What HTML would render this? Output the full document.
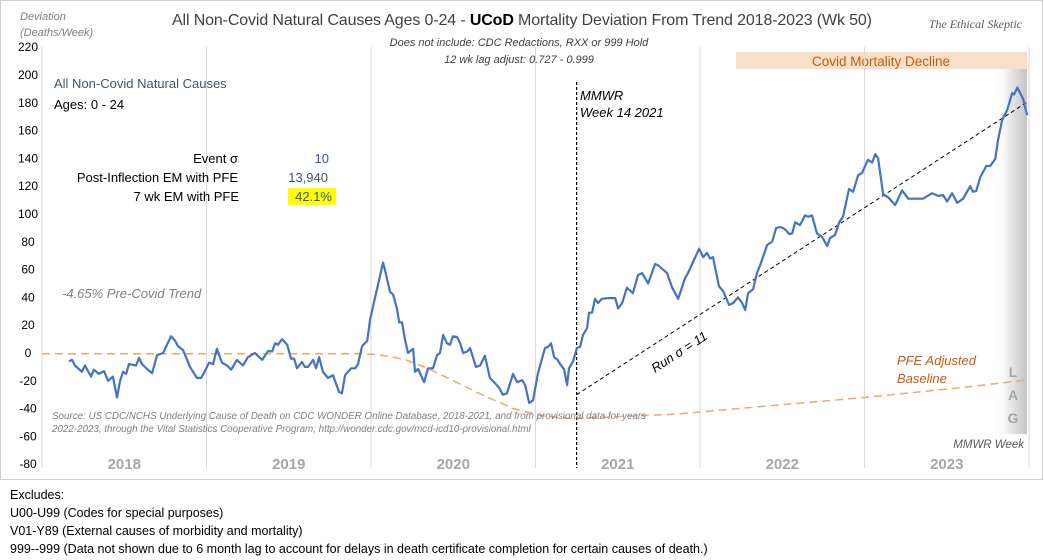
<!DOCTYPE html>
<html><head><meta charset="utf-8">
<style>
body{margin:0;background:#fff;}
svg{display:block;font-family:"Liberation Sans",sans-serif;}
</style></head>
<body>
<svg id="chart" width="1044" height="560" viewBox="0 0 1044 560" xmlns="http://www.w3.org/2000/svg">
<defs>
<linearGradient id="lagGrad" x1="0" x2="1" y1="0" y2="0">
<stop offset="0" stop-color="#ffffff" stop-opacity="0"/>
<stop offset="0.4" stop-color="#eeeeee"/>
<stop offset="1" stop-color="#c4c4c4"/>
</linearGradient>
</defs>
<rect x="0.5" y="0.5" width="1042" height="479" fill="#fff" stroke="#d0d0d0"/>
<rect x="736" y="52" width="291" height="17" fill="#fbe0c8"/>
<text x="881" y="66" font-size="13.5" fill="#c55a11" text-anchor="middle">Covid Mortality Decline</text>
<rect x="995" y="69" width="32" height="365" fill="url(#lagGrad)"/>
<g id="grid"></g>
<g id="yticks"></g>
<g id="years"></g>
<g id="series"></g>
<text x="20" y="20" font-size="11" font-style="italic" fill="#7f7f7f">Deviation</text>
<text x="20" y="36" font-size="11" font-style="italic" fill="#7f7f7f">(Deaths/Week)</text>
<text x="522" y="25" font-size="16" fill="#404040" text-anchor="middle" textLength="700">All Non-Covid Natural Causes Ages 0-24 - <tspan font-weight="bold" fill="#000">UCoD</tspan> Mortality Deviation From Trend  2018-2023 (Wk 50)</text>
<text x="519" y="46" font-size="11" font-style="italic" fill="#404040" text-anchor="middle">Does not include: CDC Redactions, RXX or 999 Hold</text>
<text x="519" y="63" font-size="11" font-style="italic" fill="#404040" text-anchor="middle">12 wk lag adjust: 0.727 - 0.999</text>
<text x="1022" y="28" font-size="12" font-style="italic" fill="#595959" text-anchor="end" font-family="Liberation Serif,serif">The Ethical Skeptic</text>
<text x="54" y="88" font-size="13" fill="#44546a">All Non-Covid Natural Causes</text>
<text x="54" y="109" font-size="13" fill="#000">Ages: 0 - 24</text>
<text x="238" y="163" font-size="13" text-anchor="end">Event σ</text>
<text x="329" y="163" font-size="13" fill="#2f5597" text-anchor="end">10</text>
<text x="238" y="182" font-size="13" text-anchor="end">Post-Inflection EM with PFE</text>
<text x="328" y="182" font-size="13" fill="#44546a" text-anchor="end">13,940</text>
<rect x="288" y="188" width="48" height="17" fill="#ffff00"/>
<text x="239" y="201" font-size="13" text-anchor="end">7 wk EM with PFE</text>
<text x="332" y="201" font-size="13" fill="#2f5597" text-anchor="end">42.1%</text>
<text x="62" y="298" font-size="13" font-style="italic" fill="#7f7f7f">-4.65% Pre-Covid Trend</text>
<text x="580" y="100" font-size="13" font-style="italic">MMWR</text>
<text x="580" y="117" font-size="13" font-style="italic">Week 14 2021</text>
<text x="0" y="0" font-size="13" font-style="italic" transform="translate(655,373) rotate(-33)">Run σ = 11</text>
<text x="897" y="365" font-size="13" font-style="italic" fill="#c55a11">PFE Adjusted</text>
<text x="897" y="383" font-size="13" font-style="italic" fill="#c55a11">Baseline</text>
<text x="1013" y="377" font-size="14" font-weight="bold" fill="#a6a6a6" text-anchor="middle">L</text>
<text x="1013" y="400" font-size="14" font-weight="bold" fill="#a6a6a6" text-anchor="middle">A</text>
<text x="1013" y="423" font-size="14" font-weight="bold" fill="#a6a6a6" text-anchor="middle">G</text>
<text x="1024" y="448" font-size="11.5" font-style="italic" fill="#595959" text-anchor="end">MMWR Week</text>
<text x="52" y="419" font-size="9.8" font-style="italic" fill="#7f7f7f">Source: US CDC/NCHS Underlying Cause of Death on CDC WONDER Online Database, 2018-2021, and from provisional data for years</text>
<text x="52" y="432" font-size="9.8" font-style="italic" fill="#7f7f7f">2022-2023, through the Vital Statistics Cooperative Program; http://wonder.cdc.gov/mcd-icd10-provisional.html</text>
<g font-size="12.5" fill="#000">
<text x="10" y="499">Excludes:</text>
<text x="10" y="517">U00-U99 (Codes for special purposes)</text>
<text x="10" y="535">V01-Y89 (External causes of morbidity and mortality)</text>
<text x="10" y="553">999--999 (Data not shown due to 6 month lag to account for delays in death certificate completion for certain causes of death.)</text>
</g>
</svg>
<script>
const yTicks=[220,200,180,160,140,120,100,80,60,40,20,0,-20,-40,-60,-80];
const yearLabels=["2018","2019","2020","2021","2022","2023"];
const weeks=[8.5,9.5,10.4,12.6,13.6,15.5,16.4,18,19.6,20.9,22.4,23.7,24.7,25.6,26.6,27.5,29.7,30.7,31.6,33.2,34.8,36.4,38.3,39.5,40.8,42,43,44.6,46.8,49,50.3,51.5,52.8,54.1,55.3,56.9,58.5,59.8,61.6,63.5,65.1,67.3,69.6,71.5,72.7,73.7,74.6,75.9,77.5,78.7,79.7,80.6,82.2,83.1,84.1,85.7,86.6,87.6,88.8,90.4,92,93.9,94.8,95.8,97.7,99,99.9,101.2,102.8,103.7,105.3,106.2,107.8,108.4,110,111,112.2,112.9,113.8,114.8,115.7,117.3,117.9,118.9,120.8,122,123.6,124.9,125.8,126.8,128,129,129.9,131.2,132.2,133.1,134.4,135.3,137.2,138.5,140,141.6,142.9,144.5,145.7,147,148.9,150.2,151.8,152.7,154,155.2,156.8,159,160,160.9,161.9,162.8,164.4,165,166,166.6,167.9,169.1,170.1,171,172.3,172.9,173.9,174.8,175.8,177,178.9,181.2,182.1,183.4,184.9,186.8,188.4,189.7,191.6,193.8,194.8,197.6,199.2,201.1,203.3,204.2,205.8,207.7,209,210.2,211.2,212.1,214,215.3,217.2,218.5,220,221.3,222.3,223.2,224.8,226,227,229.2,230.8,232.1,233.6,234.9,236.2,237.1,238.1,239.6,241.2,242.2,243.4,245,246.6,248.2,249.1,250.7,252,253.2,255.1,256.4,258,259.2,261.1,262.4,263.4,264.3,265.9,267.5,269.7,271.9,273.8,276,278.5,281.4,283.3,284.8,286.1,287.7,289.3,291.2,293.4,294.3,295.3,296.6,298.5,299.7,301.3,302.2,303.5,305.1,306.7,307.3,308.3,310.1,311.4];
const deviation=[-6,-5,-9,-13.5,-9,-17,-12,-15,-13,-20,-17,-32,-20,-13.5,-15,-8,-9,-3.5,-8,-11.5,-14.5,-1.5,0,6,12,9,5,2,-10,-18,-18,-13,-7,-8,3,-7,-9,-12,-5,-9,-3,0,-5,1.5,1,7,6,10,6,-4,-4,-11,-6.5,-10,-10,-5,-11,-3,-13.5,-18,-16,-28,-29,-16,-11,-11,-8,5,8.6,24,40,49,65,60,44,42,32,22,22,9,0,3,-13.5,-11.5,-21,-11,-11,-1.5,0,13,7,6,12,11.5,7,0,1,3.5,-10,-9,-2,-18,-21,-25,-30,-29,-15,-21,-19.5,-23,-36,-34,-14.5,3.5,4.5,7,-3,-4.5,-10,-11.5,-23,-11,-6,3.5,4.5,13,18,29,29,39,36,39,39.5,39.5,32,36,47,43,56,57.5,50,64,63,57.5,47,39,54,57.5,65.5,75,69,72,68,69,48,44.6,34.5,36,40,36,31,43,46,57.5,63,77.7,80,90,90.6,89,85.6,86,94,92,99,98,99,86,83.5,77,82.7,85,94,98,118,116,128,129.5,139,137,143,140,114,112,106.5,117,111,111,111,115,113,113.7,109,115,108,111,120,116,116.5,126.6,134.5,134.5,139.6,153,167.6,174.8,187,186,191,183,171];
const baselineWeeks=[0,100,105,110,115,122,130,140,149,158,166,175,200,230,260,290,311.4];
const baselineValues=[-0.5,-0.5,-1,-2.5,-5,-11,-20,-31,-40,-45,-47,-46.5,-44,-38,-32,-25,-19.5];
const trendWeeks=[169,311.4];
const trendValues=[-30,180.5];
const markerWeek=169;

const X0=42, WK=164.5/52, Y0=353, YS=1.39;
const xs=w=>X0+w*WK;
const ys=v=>Y0-v*YS;
const NS="http://www.w3.org/2000/svg";
function mk(tag,attrs,parent){const e=document.createElementNS(NS,tag);for(const k in attrs)e.setAttribute(k,attrs[k]);parent.appendChild(e);return e;}

const grid=document.getElementById('grid');
for(let i=0;i<=yearLabels.length;i++){
  const l=mk('line',{x1:xs(i*52),x2:xs(i*52),y1:47,y2:468,stroke:'#d9d9d9','stroke-width':1},grid);
  
  
}
const yt=document.getElementById('yticks');
yTicks.forEach(v=>{
  const t=mk('text',{x:28,y:ys(v)+4,'font-size':12,'text-anchor':'middle',fill:'#000'},yt);
  t.textContent=v;
  
  
});
const yr=document.getElementById('years');
yearLabels.forEach((y,i)=>{
  const t=mk('text',{x:xs(i*52+26),y:469,'font-size':15,'font-weight':'bold','text-anchor':'middle',fill:'#a6a6a6'},yr);
  t.textContent=y;
  
  
});
const sg=document.getElementById('series');
const bl=mk('polyline',{points:baselineWeeks.map((w,i)=>xs(w).toFixed(1)+','+ys(baselineValues[i]).toFixed(1)).join(' '),fill:'none',stroke:'#f4a56a','stroke-width':1.5,'stroke-dasharray':'8,5'},sg);


const mv=mk('line',{x1:xs(markerWeek),x2:xs(markerWeek),y1:82,y2:468,stroke:'#000','stroke-width':1.2,'stroke-dasharray':'3,2'},sg);


const tr=mk('line',{x1:xs(trendWeeks[0]),y1:ys(trendValues[0]),x2:xs(trendWeeks[1]),y2:ys(trendValues[1]),stroke:'#000','stroke-width':1,'stroke-dasharray':'4,3'},sg);


const ln=mk('polyline',{points:weeks.map((w,i)=>xs(w).toFixed(1)+','+ys(deviation[i]).toFixed(1)).join(' '),fill:'none',stroke:'#4472c4','stroke-width':2.2,'stroke-linejoin':'round'},sg);


</script>
</body></html>
